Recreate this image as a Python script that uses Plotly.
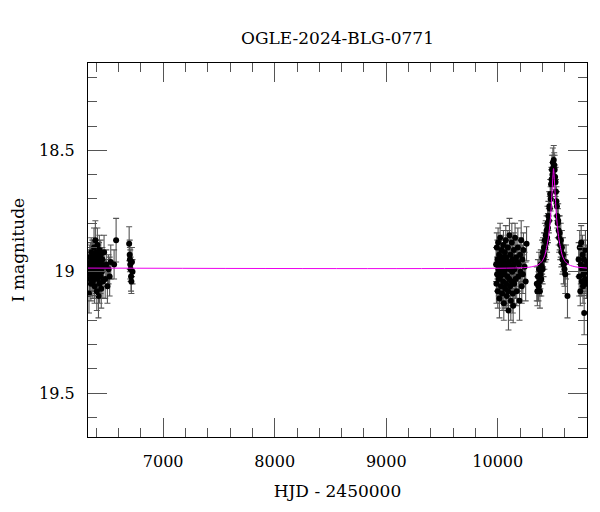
import plotly.graph_objects as go

# ---- data ----
t_a = [6335,6338,6340,6342,6345,6348,6350,6352,6355,6358,6360,6362,6365,6368,6370,6372,6375,6378,6380,6382,
       6385,6388,6390,6392,6395,6398,6400,6402,6405,6408,6410,6412,6415,6418,6420,6422,6425,6428,6430,6432,
       6435,6438,6440,6445,6448,6450,6455,6460,6465,6470,6480,6490,6500,6510,6520,6530,6560,6578,
       6695,6700,6702,6705,6708,6712,6715,6720,6725]
m_a = [19.09,18.97,19.01,18.94,19.03,18.99,18.96,19.05,18.92,19.00,18.97,19.02,18.95,18.99,19.04,18.93,18.98,19.01,18.90,18.96,
       19.06,18.99,18.94,18.87,19.02,18.97,19.00,18.92,19.08,18.96,18.89,19.03,18.98,18.94,19.10,19.01,18.95,18.91,19.05,18.99,
       18.96,19.02,18.93,19.07,18.97,19.00,18.95,19.04,18.98,18.92,19.03,18.97,19.06,18.99,19.02,18.96,18.97,18.87,
       18.885,18.93,18.95,18.97,18.99,19.02,19.04,18.96,19.00]
e_a = [0.08,0.06,0.07,0.05,0.07,0.06,0.08,0.07,0.06,0.05,0.07,0.06,0.08,0.06,0.07,0.05,0.06,0.07,0.08,0.06,
       0.07,0.06,0.05,0.08,0.07,0.06,0.07,0.05,0.08,0.06,0.07,0.06,0.07,0.05,0.09,0.06,0.07,0.06,0.08,0.05,
       0.06,0.07,0.06,0.08,0.07,0.06,0.05,0.07,0.06,0.07,0.08,0.06,0.07,0.06,0.08,0.07,0.06,0.09,
       0.07,0.06,0.05,0.06,0.05,0.06,0.05,0.06,0.05]

t_b = [9985,9988,9991,9994,9997,10000,10003,10006,10009,10012,10015,10018,10021,10024,10027,10030,10033,10036,10039,10042,
       10045,10048,10051,10054,10057,10060,10063,10066,10069,10072,10075,10078,10081,10084,10087,10090,10093,10096,10099,10102,
       10105,10108,10111,10114,10117,10120,10123,10126,10129,10132,10135,10138,10141,10144,10147,10150,10155,10160,10165,10170,
       10175,10180,10185,10190,10195,10200,10205,10210,10215,10220,10225,10230,10240,10250,10258]
m_b = [18.97,19.05,18.90,19.01,18.95,19.08,18.88,18.99,19.03,18.93,19.11,18.97,18.86,19.02,18.95,19.06,18.91,19.00,19.09,18.94,
       18.98,19.04,18.89,19.13,18.96,19.01,18.92,19.07,18.99,18.87,19.05,18.94,19.10,18.97,19.02,18.90,19.08,19.16,18.96,19.03,
       18.85,18.99,19.06,18.93,19.12,18.98,19.04,18.88,19.00,18.95,19.09,19.14,18.97,18.91,19.05,18.99,18.86,19.03,18.94,19.08,
       18.96,18.90,19.02,18.97,19.12,18.93,19.00,18.87,19.06,18.95,19.01,18.91,18.98,19.04,18.885]
e_b = [0.07,0.08,0.06,0.07,0.08,0.07,0.06,0.08,0.07,0.06,0.08,0.07,0.06,0.07,0.08,0.07,0.06,0.08,0.07,0.06,
       0.07,0.08,0.06,0.07,0.08,0.07,0.06,0.08,0.07,0.06,0.08,0.07,0.06,0.07,0.08,0.07,0.06,0.08,0.07,0.06,
       0.07,0.08,0.06,0.07,0.08,0.07,0.06,0.08,0.07,0.06,0.08,0.07,0.06,0.07,0.08,0.07,0.06,0.08,0.07,0.06,
       0.07,0.08,0.06,0.07,0.08,0.07,0.06,0.08,0.07,0.06,0.08,0.07,0.06,0.08,0.07]

t_c = [10350,10355,10360,10365,10370,10375,10378,10382,10386,10390,10394,10398,10402,10406,10410,10414,10418,10422,10426,10430,
       10434,10438,10442,10446,10450,10454,10458,10462,10466,10470,10474,10478,10482,10486,10490,10494,10498,10502,10506,10510,
       10514,10518,10522,10526,10530,10534,10538,10542,10546,10550,10555,10560,10565,10570,10575,10580,10585,10590,10598,10605,
       10612,10625]
m_c = [19.05,19.08,19.02,19.06,18.99,19.04,19.08,19.01,18.97,19.03,18.98,18.94,18.99,18.92,18.95,18.90,18.93,18.87,18.90,18.85,
       18.88,18.83,18.86,18.80,18.82,18.77,18.79,18.73,18.74,18.68,18.70,18.64,18.62,18.58,18.60,18.55,18.57,18.54,18.56,18.58,
       18.61,18.63,18.67,18.71,18.73,18.77,18.80,18.79,18.83,18.86,18.84,18.89,18.87,18.92,18.90,18.95,18.93,18.97,18.99,19.01,
       18.96,19.10]
e_c = [0.07,0.06,0.07,0.06,0.07,0.06,0.07,0.06,0.06,0.07,0.06,0.07,0.06,0.06,0.07,0.06,0.06,0.07,0.06,0.06,
       0.07,0.06,0.06,0.07,0.06,0.06,0.05,0.06,0.05,0.06,0.05,0.06,0.05,0.06,0.05,0.06,0.05,0.06,0.05,0.06,
       0.05,0.06,0.05,0.06,0.06,0.05,0.06,0.07,0.06,0.06,0.07,0.06,0.07,0.06,0.07,0.06,0.07,0.08,0.07,0.08,
       0.07,0.09]

t_d = [10725,10730,10735,10740,10745,10748,10752,10756,10760,10764,10768,10772,10775,10778,10782,10786,10790,10794,10798]
m_d = [18.95,19.02,18.90,19.08,18.97,18.88,19.04,18.99,18.93,19.06,19.01,18.95,19.17,18.98,19.03,18.91,19.00,19.05,18.96]
e_d = [0.07,0.08,0.07,0.06,0.08,0.07,0.06,0.07,0.08,0.07,0.06,0.08,0.09,0.07,0.06,0.08,0.07,0.06,0.07]

t_model = [6326,10200,10300,10360,10395,10420,10438,10452,10464,10474,10482,10488,10494,10500,
           10506,10512,10518,10526,10536,10548,10562,10580,10605,10640,10700,10800]
m_model = [18.985,18.984,18.98,18.972,18.958,18.935,18.90,18.865,18.82,18.77,18.71,18.66,18.61,18.575,
           18.61,18.66,18.71,18.77,18.82,18.865,18.90,18.935,18.958,18.972,18.98,18.985]

x_range = [6326, 10800]
y_range = [19.681, 18.140]

FONT = "DejaVu Serif"

fig = go.Figure()
for tt, mm, ee in [(t_a, m_a, e_a), (t_b, m_b, e_b), (t_c, m_c, e_c), (t_d, m_d, e_d)]:
    fig.add_trace(go.Scatter(
        x=tt, y=mm, mode="markers",
        marker=dict(color="black", size=6),
        error_y=dict(type="data", array=ee, visible=True, color="#555555", thickness=1.1, width=3),
        hoverinfo="skip",
    ))

fig.add_trace(go.Scatter(
    x=t_model, y=m_model, mode="lines",
    line=dict(color="#ee00ee", width=1.0, shape="spline", smoothing=0.8),
    hoverinfo="skip",
))

axis_common = dict(
    showline=True, linecolor="black", linewidth=1.3, mirror="allticks",
    ticks="inside", tickcolor="#555555", tickwidth=1.3, ticklen=19,
    showgrid=False, zeroline=False, automargin=False,
    tickfont=dict(family=FONT, size=16, color="black"),
)

# the page body adds an 8 px offset, so margins are shifted accordingly
fig.update_layout(
    width=600, height=512,
    margin=dict(l=80, r=21, t=55, b=83),
    paper_bgcolor="white", plot_bgcolor="white",
    showlegend=False,
    font=dict(family=FONT, color="black"),
    title=dict(text="OGLE-2024-BLG-0771", x=0.5, xref="paper", y=1 - 30 / 512, yref="container",
               yanchor="middle", xanchor="center", font=dict(family=FONT, size=17, color="black")),
    xaxis=dict(range=x_range, dtick=1000, tick0=0, tickformat="d",
               minor=dict(dtick=200, ticklen=9, ticks="inside", tickcolor="#555555", tickwidth=1.3, showgrid=False),
               ticklabelstandoff=10,
               title=dict(text="HJD - 2450000", font=dict(family=FONT, size=17, color="black"), standoff=14),
               **axis_common),
    yaxis=dict(range=y_range, dtick=0.5, tick0=0,
               minor=dict(dtick=0.1, ticklen=9, ticks="inside", tickcolor="#555555", tickwidth=1.3, showgrid=False),
               ticklabelstandoff=9,
               title=dict(text="I magnitude", font=dict(family=FONT, size=17, color="black"), standoff=12),
               **axis_common),
)

fig.write_html("out.html")
